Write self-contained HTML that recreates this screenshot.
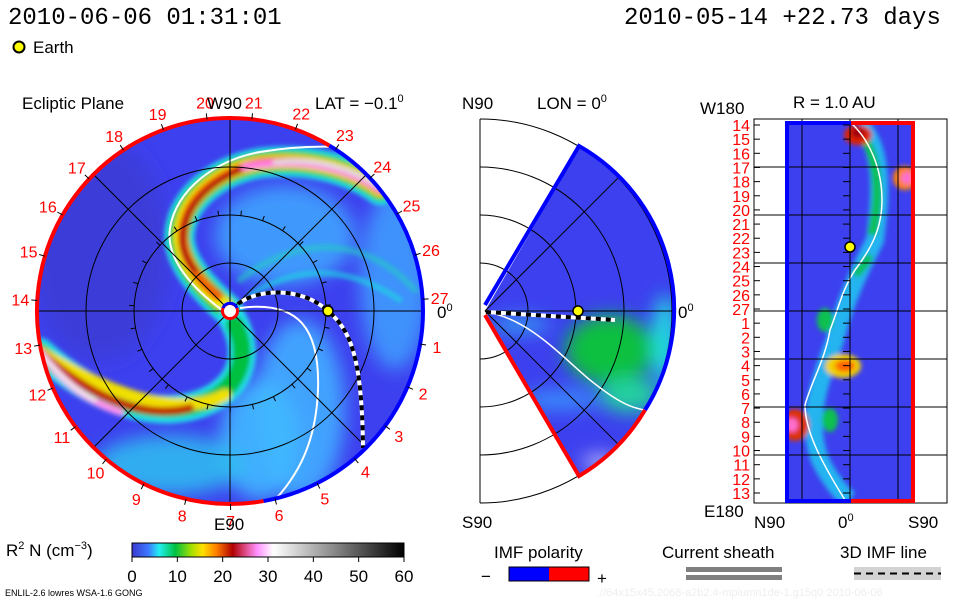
<!DOCTYPE html>
<html><head><meta charset="utf-8">
<style>
body{margin:0;background:#fff;}
svg{display:block;}
text{font-family:"Liberation Sans",sans-serif;}
.mono{font-family:"Liberation Mono",monospace;}
</style></head>
<body>
<svg id="chart" width="960" height="600" viewBox="0 0 960 600" xmlns="http://www.w3.org/2000/svg">
<defs>
  <filter id="bl4" x="-20%" y="-20%" width="140%" height="140%"><feGaussianBlur stdDeviation="2.5"/></filter>
  <filter id="bl8" x="-30%" y="-30%" width="160%" height="160%"><feGaussianBlur stdDeviation="9"/></filter>
  <clipPath id="diskClip"><circle cx="230" cy="311" r="193"/></clipPath>
  <clipPath id="wedgeClip"><path d="M485,311 L579,148 A188,188 0 0 1 579,474 Z"/></clipPath>
  <clipPath id="mapClip"><rect x="786" y="123" width="128" height="378"/></clipPath>
  <linearGradient id="cbar" x1="0" x2="1" y1="0" y2="0">
    <stop offset="0" stop-color="#3a3ad0"/>
    <stop offset="0.06" stop-color="#3c78ff"/>
    <stop offset="0.1" stop-color="#20f0f0"/>
    <stop offset="0.16" stop-color="#00c040"/>
    <stop offset="0.22" stop-color="#a8e000"/>
    <stop offset="0.26" stop-color="#ffe000"/>
    <stop offset="0.31" stop-color="#ff8000"/>
    <stop offset="0.37" stop-color="#b00000"/>
    <stop offset="0.42" stop-color="#e05090"/>
    <stop offset="0.46" stop-color="#ff90ff"/>
    <stop offset="0.52" stop-color="#ffffff"/>
    <stop offset="1" stop-color="#000000"/>
  </linearGradient>
</defs>

<!-- header -->
<text x="8" y="24" class="mono" font-size="24">2010-06-06 01:31:01</text>
<text x="624" y="24" class="mono" font-size="24">2010-05-14 +22.73 days</text>
<circle cx="19" cy="47" r="5.5" fill="#ffff00" stroke="#000" stroke-width="2"/>
<text x="33" y="53" font-size="17">Earth</text>

<!-- ===== Left: ecliptic plane ===== -->
<text x="22" y="109" font-size="17">Ecliptic Plane</text>
<text x="315" y="109" font-size="17">LAT = −0.1<tspan dy="-7" font-size="11">0</tspan></text>
<g clip-path="url(#diskClip)">
  <rect x="30" y="110" width="400" height="400" fill="#3d40ee"/>
  <g filter="url(#bl8)">
    <ellipse cx="300" cy="410" rx="45" ry="90" fill="#40a8ff" opacity="0.95"/>
    <ellipse cx="260" cy="440" rx="40" ry="60" fill="#40b8ff" opacity="0.9"/>
    <ellipse cx="395" cy="280" rx="35" ry="90" fill="#40a0ff" opacity="0.85"/>
    <ellipse cx="285" cy="235" rx="70" ry="50" fill="#40a8ff" opacity="0.85"/>
    <ellipse cx="170" cy="465" rx="75" ry="30" fill="#30c0f0" opacity="0.85"/>
    <ellipse cx="100" cy="250" rx="70" ry="110" fill="#3a3cd0" opacity="0.7"/>
  </g>
  <g fill="none" stroke-linecap="round" filter="url(#bl4)">
    <!-- upper CME band -->
    <path d="M228,310 C205,290 175,260 180,230 C185,195 220,170 260,163 C300,158 345,165 380,190" stroke="#20e8e8" stroke-width="30"/>
    <path d="M228,310 C205,290 175,260 180,230 C185,195 220,170 260,163 C300,158 345,165 380,190" stroke="#00c040" stroke-width="22"/>
    <path d="M226,306 C205,290 177,260 181,230 C186,196 220,170 260,163 C300,158 345,165 380,190" stroke="#f0e800" stroke-width="15"/>
    <path d="M218,296 C200,282 180,258 183,230 C187,197 220,171 260,163 C300,158 345,165 380,190" stroke="#f06000" stroke-width="10"/>
    <path d="M195,270 C183,255 180,245 184,228 C190,200 215,178 250,166" stroke="#b00010" stroke-width="6"/>
    <path d="M245,167 C290,158 340,163 380,189" stroke="#ff80e0" stroke-width="8"/>
    <path d="M275,162 C310,158 345,165 378,186" stroke="#e0e0e0" stroke-width="5"/>
    <!-- streaks -->
    <path d="M250,295 C290,270 340,260 400,300" stroke="#20e0e0" stroke-width="5" opacity="0.7"/>
    <path d="M240,280 C290,240 360,230 415,290" stroke="#20d0c0" stroke-width="6" opacity="0.6"/>
    <!-- lower band -->
    <path d="M232,318 C250,350 245,385 205,402 C160,420 100,405 40,352" stroke="#20e0e8" stroke-width="28"/>
    <path d="M235,325 C250,355 240,388 205,402 C160,418 100,405 40,352" stroke="#00c040" stroke-width="18"/>
    <path d="M225,395 C200,408 150,418 40,352" stroke="#f0e000" stroke-width="12"/>
    <path d="M190,408 C150,418 100,405 40,352" stroke="#c02000" stroke-width="8"/>
    <path d="M120,412 C90,402 65,385 40,352" stroke="#ff90f0" stroke-width="7"/>
    <path d="M95,400 C75,390 60,375 42,355" stroke="#f0f0f0" stroke-width="4"/>
  </g>
</g>
<!-- current sheath lines -->
<path d="M222,310 C195,290 165,260 170,228 C176,190 215,160 260,152 C295,146 320,146 340,147" fill="none" stroke="#fff" stroke-width="2"/>
<path d="M240,308 C300,300 320,330 318,390 C316,440 300,475 270,505" fill="none" stroke="#fff" stroke-width="2"/>
<g id="leftGrid" fill="none" stroke="#000" stroke-width="1"></g>
<!-- IMF line -->
<path d="M238,304 C255,290 300,285 328,311 C350,330 362,355 363,448" fill="none" stroke="#fff" stroke-width="4"/>
<path d="M238,304 C255,290 300,285 328,311 C350,330 362,355 363,448" fill="none" stroke="#000" stroke-width="4" stroke-dasharray="5 5"/>
<path id="leftBlue" d="" fill="none" stroke="#0000ff" stroke-width="4"/>
<path id="leftRed" d="" fill="none" stroke="#ff0000" stroke-width="4"/>
<circle cx="230" cy="311" r="7.5" fill="#fff" stroke="#ff0000" stroke-width="3"/>
<path d="M223,308 A7.5,7.5 0 0 1 237,308" fill="none" stroke="#0000ff" stroke-width="3"/>
<circle cx="328" cy="311" r="5" fill="#ffff00" stroke="#000" stroke-width="1.5"/>
<g id="leftLabels"></g>
<text x="207" y="109" font-size="17">W90</text>
<text x="214" y="530" font-size="17">E90</text>
<text x="437" y="318" font-size="17">0<tspan dy="-7" font-size="11">0</tspan></text>

<!-- ===== Middle: meridional plane ===== -->
<text x="462" y="109" font-size="17">N90</text>
<text x="537" y="109" font-size="17">LON = 0<tspan dy="-7" font-size="11">0</tspan></text>
<text x="462" y="528" font-size="17">S90</text>
<text x="678" y="318" font-size="17">0<tspan dy="-7" font-size="11">0</tspan></text>
<g clip-path="url(#wedgeClip)">
  <rect x="480" y="140" width="200" height="340" fill="#3d40ee"/>
  <g filter="url(#bl8)">
    <ellipse cx="610" cy="350" rx="45" ry="35" fill="#10c040"/>
    <ellipse cx="665" cy="340" rx="12" ry="45" fill="#20e0e0"/>
    <ellipse cx="630" cy="395" rx="30" ry="18" fill="#20d0a0"/>
    <ellipse cx="560" cy="400" rx="40" ry="10" fill="#3aa0ff" opacity="0.8"/>
    <ellipse cx="520" cy="325" rx="30" ry="8" fill="#30b8f0" opacity="0.8"/>
    <ellipse cx="600" cy="462" rx="18" ry="6" fill="#ffffff" opacity="0.8"/>
  </g>
</g>
<g id="midGrid" fill="none" stroke="#000" stroke-width="1"></g>
<path d="M487,312 C530,320 560,355 590,380 C615,400 630,408 645,410" fill="none" stroke="#fff" stroke-width="1.5"/>
<path d="M486,312 L615,320" stroke="#fff" stroke-width="4"/>
<path d="M486,312 L615,320" stroke="#000" stroke-width="4" stroke-dasharray="5 5"/>
<path d="M485,305 L579,146 A188,188 0 0 1 645,410" fill="none" stroke="#0000ff" stroke-width="4"/>
<path d="M485,315 L579,476 A188,188 0 0 0 645,410" fill="none" stroke="#ff0000" stroke-width="4"/>
<circle cx="578" cy="311" r="5" fill="#ffff00" stroke="#000" stroke-width="1.5"/>

<!-- ===== Right: R = 1 AU map ===== -->
<text x="793" y="108" font-size="17">R = 1.0 AU</text>
<text x="700" y="114" font-size="17">W180</text>
<text x="704" y="517" font-size="17">E180</text>
<text x="754" y="528" font-size="17">N90</text>
<text x="838" y="528" font-size="17">0<tspan dy="-7" font-size="11">0</tspan></text>
<text x="908" y="528" font-size="17">S90</text>
<g clip-path="url(#mapClip)">
  <rect x="786" y="123" width="128" height="378" fill="#3d40ee"/>
  <g filter="url(#bl4)">
    <path d="M860,125 C885,150 880,200 875,240 C860,270 845,300 835,340 C820,380 805,420 820,460 C835,490 850,500 850,500" fill="none" stroke="#20c8f0" stroke-width="18" opacity="0.85"/>
    <path d="M862,135 C880,160 880,200 872,235" fill="none" stroke="#10c050" stroke-width="9"/>
    <path d="M870,255 C865,265 860,270 855,275" fill="none" stroke="#10c050" stroke-width="8"/>
    <ellipse cx="858" cy="135" rx="14" ry="10" fill="#e02000"/>
    <ellipse cx="858" cy="133" rx="7" ry="5" fill="#a00010"/>
    <ellipse cx="905" cy="178" rx="12" ry="12" fill="#ff8000"/>
    <ellipse cx="907" cy="178" rx="6" ry="6" fill="#ff70d0"/>
    <ellipse cx="843" cy="366" rx="18" ry="12" fill="#f0d000"/>
    <ellipse cx="845" cy="366" rx="10" ry="6" fill="#ff6000"/>
    <ellipse cx="795" cy="425" rx="14" ry="16" fill="#e03000"/>
    <ellipse cx="792" cy="425" rx="6" ry="7" fill="#ff70d0"/>
    <ellipse cx="825" cy="320" rx="8" ry="12" fill="#10c050"/>
    <ellipse cx="830" cy="420" rx="8" ry="12" fill="#10c050"/>
  </g>
</g>
<path d="M851,123 C870,140 882,170 882,200 C882,230 870,250 855,270 C842,290 838,310 830,330 C825,360 812,380 805,405 C805,430 820,460 845,500" fill="none" stroke="#fff" stroke-width="1.5"/>
<rect x="754" y="119" width="193" height="384" fill="none" stroke="#000" stroke-width="1"/>
<g id="rightGrid" stroke="#000" stroke-width="1"></g>
<path d="M851,123 L787,123 L787,501 L851,501" fill="none" stroke="#0000ff" stroke-width="4"/>
<path d="M851,123 L913,123 L913,501 L851,501" fill="none" stroke="#ff0000" stroke-width="4"/>
<circle cx="850" cy="247" r="5" fill="#ffff00" stroke="#000" stroke-width="1.5"/>
<g id="rightLabels"></g>

<!-- ===== Colorbar & legends ===== -->
<text x="6" y="556" font-size="17">R<tspan dy="-7" font-size="11">2</tspan><tspan dy="7"> N (cm</tspan><tspan dy="-7" font-size="11">−3</tspan><tspan dy="7">)</tspan></text>
<rect x="132" y="543" width="272" height="14" fill="url(#cbar)" stroke="#000" stroke-width="1"/>
<g id="cbTicks"></g>
<text x="494" y="558" font-size="17">IMF polarity</text>
<text x="481" y="582" font-size="17">−</text>
<rect x="509" y="567" width="40" height="14" fill="#0000ff"/>
<rect x="549" y="567" width="40" height="14" fill="#ff0000"/>
<rect x="509" y="567" width="80" height="14" fill="none" stroke="#000" stroke-width="1"/>
<text x="597" y="584" font-size="17">+</text>
<text x="662" y="558" font-size="17">Current sheath</text>
<rect x="686" y="567" width="96" height="5" fill="#808080"/>
<rect x="686" y="575" width="96" height="5" fill="#808080"/>
<text x="840" y="558" font-size="17">3D IMF line</text>
<rect x="854" y="567" width="87" height="13" fill="#d3d3d3"/>
<line x1="854" y1="573.5" x2="941" y2="573.5" stroke="#000" stroke-width="2" stroke-dasharray="7 5"/>
<text x="5" y="596" font-size="9">ENLIL-2.6 lowres WSA-1.6 GONG</text>
<text x="597" y="596" font-size="11" fill="#eeeeee">.//64x15x45.2068-a2b2.4-mpiumn1de-1.g15q0   2010-06-06</text>
</svg>

<script>
const NS = "http://www.w3.org/2000/svg";
const dayLabels = [27,26,25,24,23,22,21,20,19,18,17,16,15,14,13,12,11,10,9,8,7,6,5,4,3,2,1];
const auLabels = [14,15,16,17,18,19,20,21,22,23,24,25,26,27,1,2,3,4,5,6,7,8,9,10,11,12,13];
const colorTicks = [0,10,20,30,40,50,60];
const ringRadii = [48, 96, 144];
const blueArc = [-80, 59];

const cx = 230, cy = 311, R = 193;
function polar(r, deg){ const a = deg*Math.PI/180; return [cx + r*Math.cos(a), cy - r*Math.sin(a)]; }
function mk(tag, attrs, parent){ const e = document.createElementNS(NS, tag); for (const k in attrs) e.setAttribute(k, attrs[k]); parent.appendChild(e); return e; }

const lg = document.getElementById('leftGrid');
ringRadii.forEach(r => {
  const c = mk('circle', {cx:cx, cy:cy, r:r}, lg);
  
  
});
[0,45,90,135].forEach(d => {
  const p1 = polar(R, d), p2 = polar(R, d+180);
  const l = mk('line', {x1:p1[0], y1:p1[1], x2:p2[0], y2:p2[1]}, lg);
  
  
});
const step = 360/dayLabels.length, off = 3.5;
const labG = document.getElementById('leftLabels');
dayLabels.forEach((d, i) => {
  const ang = off + i*step;
  const a = polar(R, ang), b = polar(R+6, ang);
  const t = mk('line', {x1:a[0], y1:a[1], x2:b[0], y2:b[1], stroke:'#000'}, labG);
  
  
  const a2 = polar(96, ang), b2 = polar(101, ang);
  const t2 = mk('line', {x1:a2[0], y1:a2[1], x2:b2[0], y2:b2[1], stroke:'#000'}, labG);
  
  
  const p = polar(R+17, ang);
  const tx = mk('text', {x:p[0], y:p[1]+6, 'text-anchor':'middle', 'font-size':16, fill:'#ff0000'}, labG);
  tx.textContent = d;
  
  
});
function arcPath(a1, a2){
  const p1 = polar(R, a1), p2 = polar(R, a2);
  const large = (a2 - a1) > 180 ? 1 : 0;
  return `M${p1[0]},${p1[1]} A${R},${R} 0 ${large} 0 ${p2[0]},${p2[1]}`;
}
document.getElementById('leftBlue').setAttribute('d', arcPath(blueArc[0], blueArc[1]));
document.getElementById('leftRed').setAttribute('d', arcPath(blueArc[1], blueArc[0]+360));

const mg = document.getElementById('midGrid');
const mcx = 480, mcy = 311;
mk('line', {x1:480, y1:119, x2:480, y2:503}, mg);
[48,96,144,192].forEach(r => {
  const e = mk('path', {d:`M${mcx},${mcy-r} A${r},${r} 0 0 1 ${mcx},${mcy+r}`}, mg);
  
  
});
[45,0,-45].forEach(d => {
  const a = d*Math.PI/180;
  const e = mk('line', {x1:485, y1:311, x2:485+188*Math.cos(a), y2:311-188*Math.sin(a)}, mg);
  
  
});

const rg = document.getElementById('rightGrid');
[802, 850, 898].forEach(x => {
  const e = mk('line', {x1:x, y1:119, x2:x, y2:503}, rg);
  
  
});
for (let k = 1; k <= 7; k++) {
  const y = 119 + k*48;
  const e = mk('line', {x1:754, y1:y, x2:947, y2:y}, rg);
  
  
}
const rl = document.getElementById('rightLabels');
const y0 = 125, dy = (493 - 125)/(auLabels.length - 1);
auLabels.forEach((d, i) => {
  const y = y0 + i*dy;
  const tk = mk('line', {x1:754, y1:y, x2:760, y2:y, stroke:'#000'}, rl);
  
  
  const tk2 = mk('line', {x1:843, y1:y, x2:850, y2:y, stroke:'#000'}, rl);
  
  
  const t = mk('text', {x:750, y:y+6, 'text-anchor':'end', 'font-size':16, fill:'#ff0000'}, rl);
  t.textContent = d;
  
  
});

const cb = document.getElementById('cbTicks');
const cbX = v => 132 + (v/60)*272;
colorTicks.forEach(v => {
  const x = cbX(v);
  const l = mk('line', {x1:x, y1:557, x2:x, y2:562, stroke:'#000'}, cb);
  
  
  const t = mk('text', {x:x, y:582, 'text-anchor':'middle', 'font-size':17}, cb);
  t.textContent = v;
  
  
});
</script>
</body></html>
